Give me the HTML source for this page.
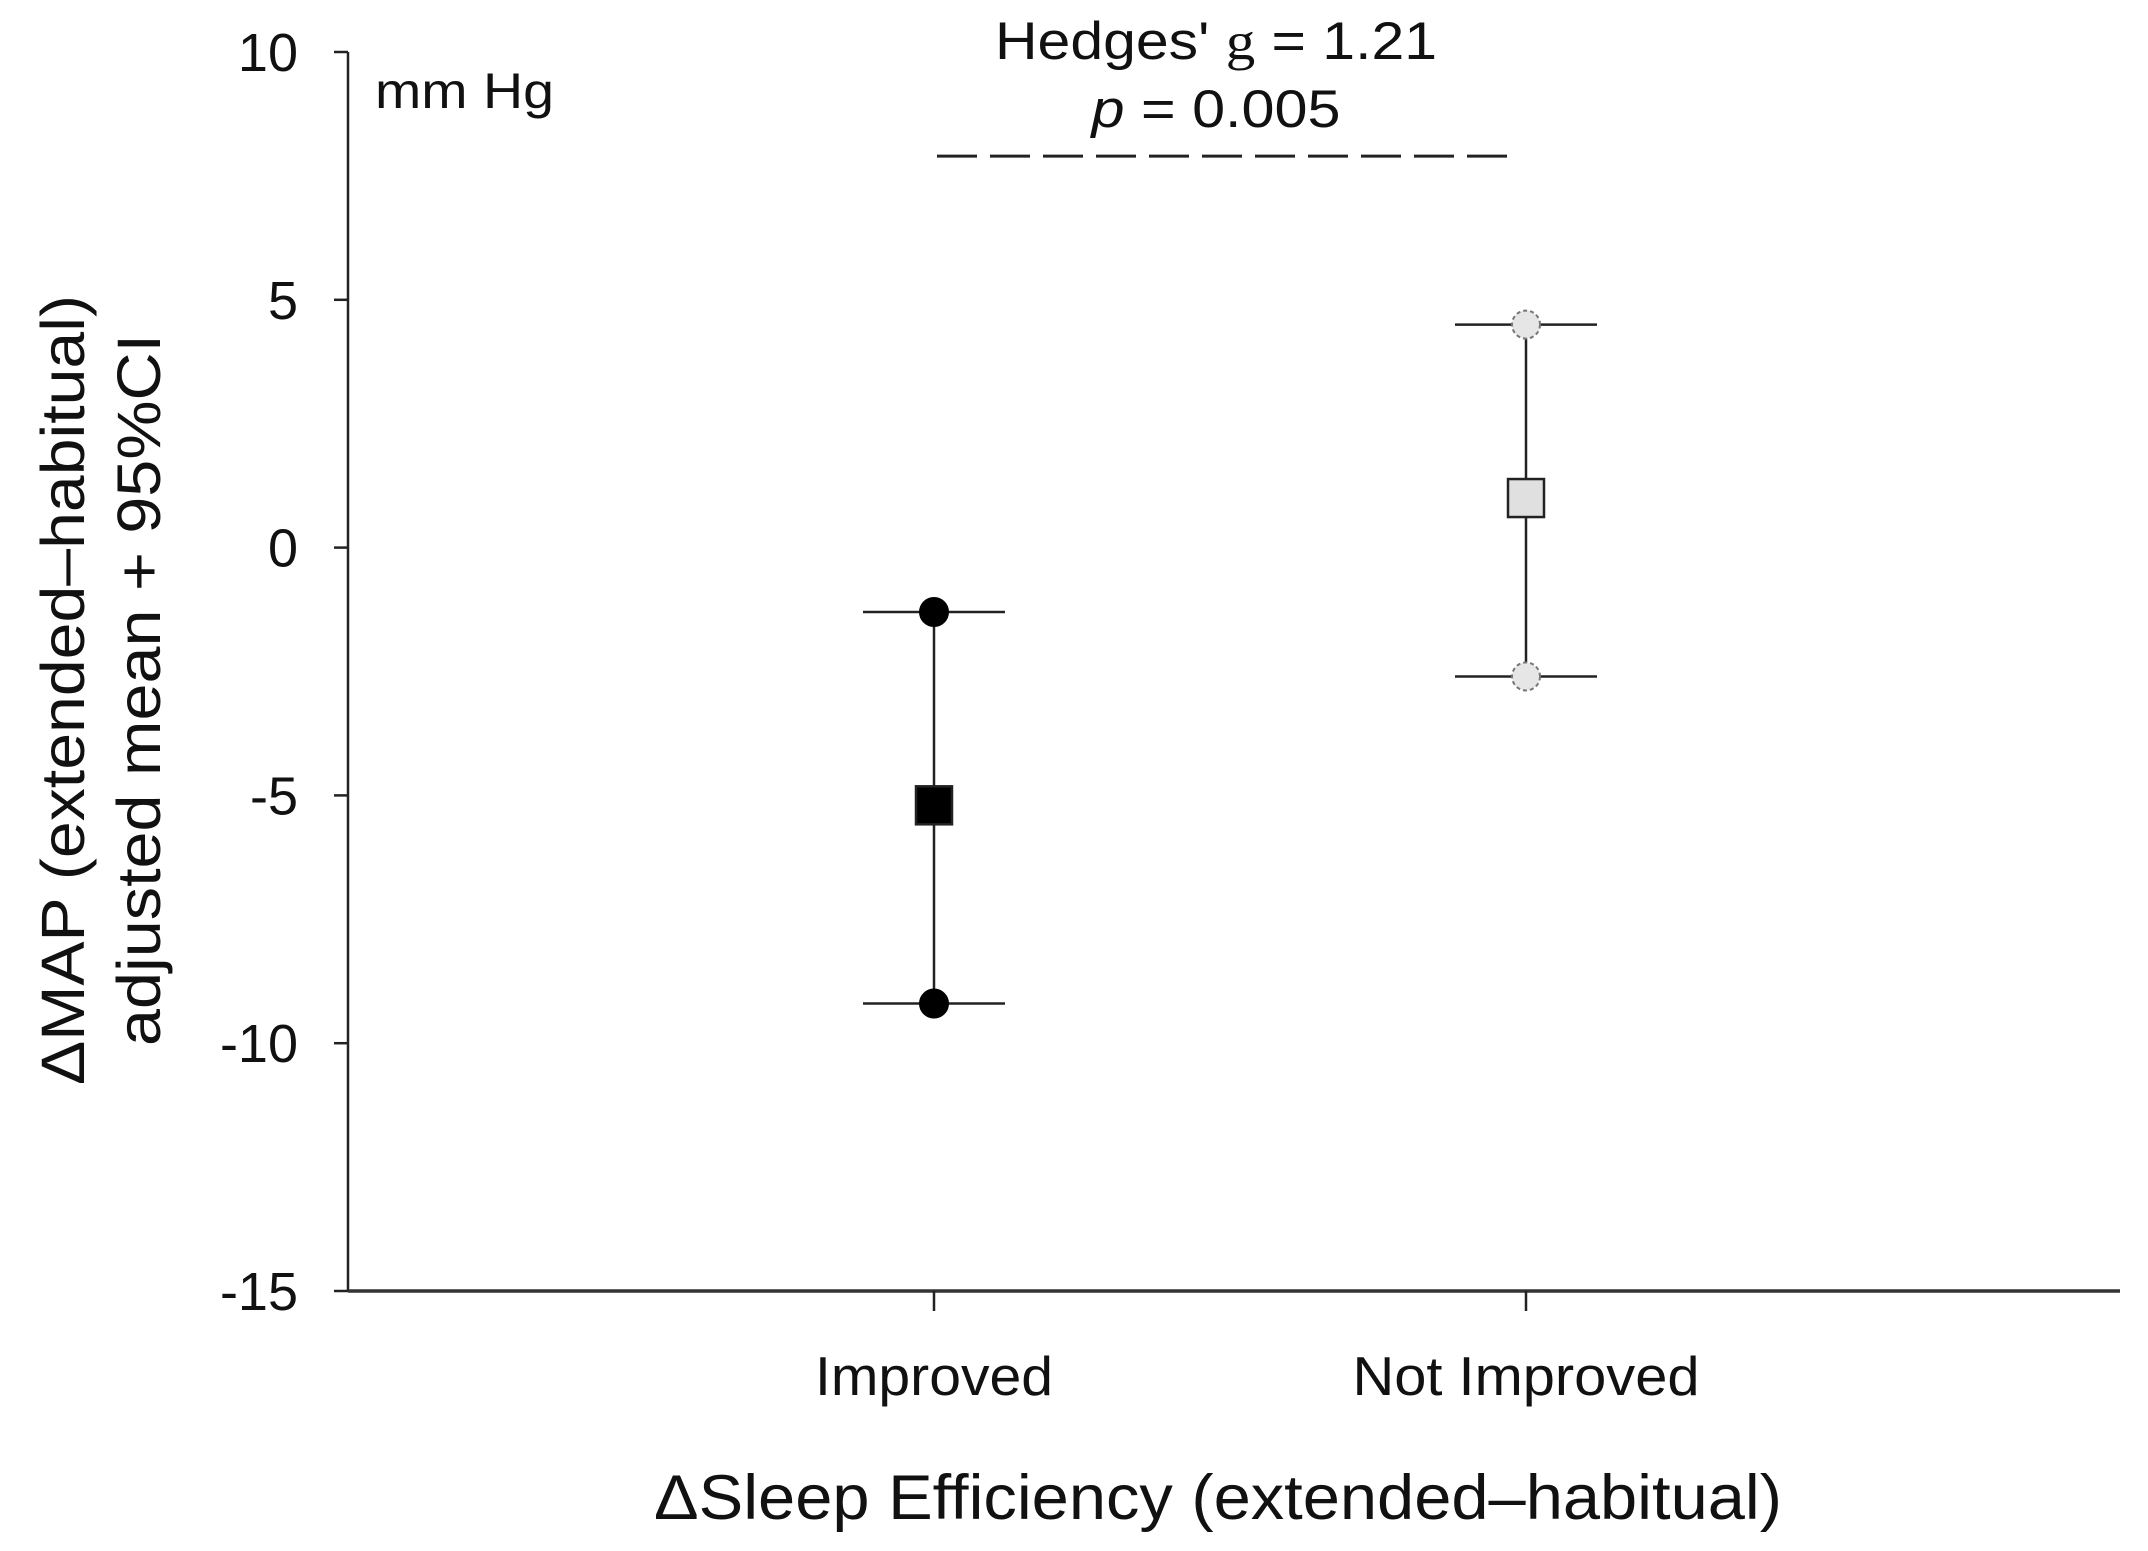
<!DOCTYPE html>
<html><head><meta charset="utf-8"><style>
html,body{margin:0;padding:0;background:#fff;}
svg{display:block;font-family:"Liberation Sans",sans-serif;}
</style></head><body>
<svg id="chart" width="2148" height="1551" viewBox="0 0 2148 1551">
<g id="axes"></g>
<g id="marks"></g>
</svg>
<script>
const categories = ["Improved", "Not Improved"];
const means = [-5.2, 1.0];
const ciLower = [-9.2, -2.6];
const ciUpper = [-1.3, 4.5];
const yTicks = [10, 5, 0, -5, -10, -15];
const sigLineValue = 7.9;

const NS = "http://www.w3.org/2000/svg";
const X0 = 348, X1 = 2120, Y0 = 52, Y1 = 1291;
const xs = c => 342 + 592 * c;
const ys = v => Y1 - (v - (-15)) / 25 * (Y1 - Y0);
function mk(tag, attrs, parent, text) {
  const e = document.createElementNS(NS, tag);
  for (const k in attrs) e.setAttribute(k, attrs[k]);
  if (text !== undefined) e.textContent = text;
  parent.appendChild(e);
  return e;
}
const axes = document.getElementById('axes');
const marks = document.getElementById('marks');

let e = mk('line', {x1: X0, y1: Y0, x2: X0, y2: Y1, stroke: '#222', 'stroke-width': 2.5}, axes);


e = mk('line', {x1: X0, y1: Y1, x2: X1, y2: Y1, stroke: '#333', 'stroke-width': 3.5}, axes);



yTicks.forEach(t => {
  const y = ys(t);
  let l = mk('line', {x1: X0 - 14, y1: y, x2: X0, y2: y, stroke: '#222', 'stroke-width': 2.5}, axes);
  
  
  let tx = mk('text', {x: 298, y: y + 19, 'text-anchor': 'end', 'font-size': 54, fill: '#111'}, axes, String(t));
  
  
});

const xLabelLens = [238, 347];
categories.forEach((c, i) => {
  const x = xs(i + 1);
  let l = mk('line', {x1: x, y1: Y1, x2: x, y2: Y1 + 20, stroke: '#222', 'stroke-width': 2.5}, axes);
  
  
  let tx = mk('text', {x: x, y: 1395, 'text-anchor': 'middle', 'font-size': 55, fill: '#111', textLength: xLabelLens[i], lengthAdjust: 'spacingAndGlyphs'}, axes, c);
  
  
});

let t = mk('text', {x: 1218, y: 1519, 'text-anchor': 'middle', 'font-size': 63, fill: '#111', textLength: 1128, lengthAdjust: 'spacingAndGlyphs'}, axes, '\u0394Sleep Efficiency (extended\u2013habitual)');



const yt = mk('text', {transform: 'translate(0,690) rotate(-90)', 'text-anchor': 'middle', 'font-size': 61, fill: '#111'}, axes);


mk('tspan', {x: 0, y: 84, textLength: 790, lengthAdjust: 'spacingAndGlyphs'}, yt, '\u0394MAP (extended\u2013habitual)');
mk('tspan', {x: 0, y: 160, textLength: 712, lengthAdjust: 'spacingAndGlyphs'}, yt, 'adjusted mean + 95%CI');

t = mk('text', {x: 375, y: 108, 'font-size': 50, fill: '#111', textLength: 179, lengthAdjust: 'spacingAndGlyphs'}, axes, 'mm Hg');



const ht = mk('text', {x: 1216, y: 59, 'text-anchor': 'middle', 'font-size': 53, fill: '#111', textLength: 442, lengthAdjust: 'spacingAndGlyphs'}, axes);


mk('tspan', {}, ht, "Hedges' ");
mk('tspan', {'font-family': '"Liberation Serif",serif'}, ht, 'g');
mk('tspan', {}, ht, ' = 1.21');
const pt = mk('text', {x: 1216, y: 127, 'text-anchor': 'middle', 'font-size': 53, fill: '#111', textLength: 249, lengthAdjust: 'spacingAndGlyphs'}, axes);


mk('tspan', {'font-style': 'italic'}, pt, 'p');
mk('tspan', {}, pt, ' = 0.005');

e = mk('line', {x1: 937, y1: ys(sigLineValue), x2: 1508, y2: ys(sigLineValue), stroke: '#222', 'stroke-width': 3, 'stroke-dasharray': '40,13'}, axes);



const fills = ['#000', '#e0e0e0'];
categories.forEach((c, i) => {
  const x = xs(i + 1);
  const g = mk('g', {}, marks);
  
  
  let l = mk('line', {x1: x, y1: ys(ciUpper[i]), x2: x, y2: ys(ciLower[i]), stroke: '#222', 'stroke-width': 2.5}, g);
  
  
  [ciUpper[i], ciLower[i]].forEach(v => {
    let cap = mk('line', {x1: x - 71, y1: ys(v), x2: x + 71, y2: ys(v), stroke: '#222', 'stroke-width': 2.5}, g);
    
    
    let c2 = mk('circle', {cx: x, cy: ys(v), r: 14, fill: i === 0 ? '#000' : '#e6e6e6', stroke: i === 0 ? '#000' : '#777', 'stroke-width': 2, 'stroke-dasharray': i === 0 ? 'none' : '4,3'}, g);
    
    
  });
  let sq = mk('rect', {x: x - 18, y: ys(means[i]) - 19, width: 36, height: 38, fill: fills[i], stroke: '#222', 'stroke-width': 2.5}, g);
  
  
});
</script>
</body></html>
